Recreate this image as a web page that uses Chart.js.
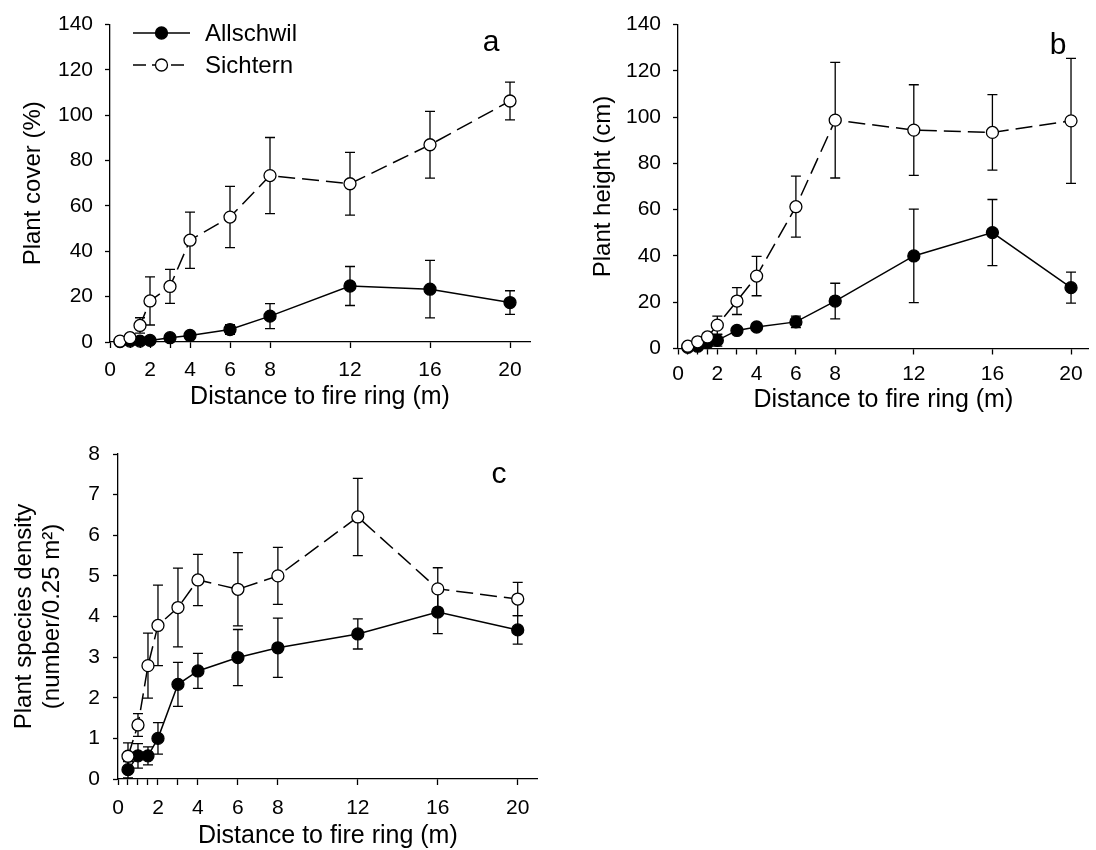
<!DOCTYPE html>
<html>
<head>
<meta charset="utf-8">
<title>Vegetation around fire rings</title>
<script src="https://cdn.jsdelivr.net/npm/chart.js@4/dist/chart.umd.min.js"></script>
<style>
  html, body { margin: 0; padding: 0; background: #fff; overflow: hidden; }
  canvas { position: absolute; }
</style>
</head>
<body>
<canvas id="coverChart" width="545" height="420" style="left:0;top:0"></canvas>
<canvas id="heightChart" width="556" height="420" style="left:540px;top:0"></canvas>
<canvas id="densityChart" width="545" height="430" style="left:0;top:420px"></canvas>

<script>
// distances of the sampling points (m)
const distances = [0.5, 1, 1.5, 2, 3, 4, 6, 8, 12, 16, 20];
// tick marks on the x axis, and the ones that carry a label
const xTickValues = [0, 0.5, 1, 1.5, 2, 3, 4, 6, 8, 12, 16, 20];
const xTickLabels = [0, 2, 4, 6, 8, 12, 16, 20];

// a) plant cover (%), mean and SE
const coverAllschwil   = [0.2, 0.4, 0.4, 0.7, 1.9, 2.9, 5.5, 11.4, 24.7, 23.3, 17.4];
const coverAllschwilSE = [0.2, 0.3, 0.5, 0.5, 0.9, 1.1, 2.1, 5.5, 8.6, 12.7, 5.2];
const coverSichtern    = [0.4, 1.9, 7.3, 18.1, 24.5, 44.9, 55.1, 73.4, 69.8, 87.0, 106.3];
const coverSichternSE  = [0.3, 0.8, 3.4, 10.6, 7.5, 12.4, 13.5, 16.8, 13.8, 14.7, 8.3];

// b) plant height (cm), mean and SE
const heightAllschwil   = [0.5, 1.0, 2.5, 3.5, 7.8, 9.3, 11.5, 20.5, 40.0, 50.1, 26.3];
const heightAllschwilSE = [0.3, 0.5, 1.0, 2.5, 1.2, 1.2, 2.5, 7.7, 20.2, 14.3, 6.7];
const heightSichtern    = [1.0, 2.9, 5.0, 10.1, 20.5, 31.3, 61.3, 98.7, 94.4, 93.4, 98.4];
const heightSichternSE  = [0.5, 1.0, 1.5, 3.9, 5.8, 8.5, 13.2, 25.0, 19.6, 16.3, 27.0];

// c) plant species density (number / 0.25 m2), mean and SE
const densityAllschwil   = [0.23, 0.57, 0.57, 1.0, 2.33, 2.66, 2.99, 3.23, 3.57, 4.11, 3.67];
const densityAllschwilSE = [0.2, 0.3, 0.22, 0.39, 0.54, 0.43, 0.69, 0.73, 0.37, 0.53, 0.35];
const densitySichtern    = [0.56, 1.33, 2.79, 3.78, 4.22, 4.9, 4.67, 5.0, 6.45, 4.68, 4.43];
const densitySichternSE  = [0.33, 0.28, 0.8, 0.99, 0.97, 0.63, 0.9, 0.7, 0.95, 0.52, 0.41];

const seriesNames = ['Allschwil', 'Sichtern'];

const FONT = "'Liberation Sans', Arial, Helvetica, sans-serif";
const SICHTERN_DASH = [17, 7];
const MARKER_R = 6;

/**
 * Pairs the distances with one series of values.
 * @param {Array} values - y values, one per distance.
 * @returns {Array} points as {x, y}.
 */
function toPoints(values) {
    return distances.map((d, i) => ({ x: d, y: values[i] }));
}

// Draws symmetric error bars (mean +/- SE) under the markers
const errorBarPlugin = {
    id: 'errorBars',
    beforeDatasetsDraw(chart) {
        const { ctx, scales: { x, y } } = chart;
        ctx.save();
        ctx.strokeStyle = '#000';
        ctx.lineWidth = 1.3;
        chart.data.datasets.forEach(ds => {
            if (!ds.errors) return;
            ds.data.forEach((pt, i) => {
                const err = ds.errors[i];
                const px = x.getPixelForValue(pt.x);
                const top = y.getPixelForValue(pt.y + err);
                const bottom = y.getPixelForValue(Math.max(pt.y - err, y.min));
                ctx.beginPath();
                ctx.moveTo(px, top);
                ctx.lineTo(px, bottom);
                ctx.moveTo(px - 5, top);
                ctx.lineTo(px + 5, top);
                if (pt.y - err > y.min) {
                    ctx.moveTo(px - 5, bottom);
                    ctx.lineTo(px + 5, bottom);
                }
                ctx.stroke();
            });
        });
        ctx.restore();
    }
};

// Panel letter (a, b, c) in the top right corner
const panelLabelPlugin = {
    id: 'panelLabel',
    afterDraw(chart, args, opts) {
        if (!opts || !opts.text) return;
        const { ctx } = chart;
        ctx.save();
        ctx.font = `30px ${FONT}`;
        ctx.fillStyle = '#000';
        ctx.textAlign = 'center';
        ctx.textBaseline = 'middle';
        ctx.fillText(opts.text, opts.x, opts.y);
        ctx.restore();
    }
};

// Small key with line + marker samples (only used on panel a)
const seriesKeyPlugin = {
    id: 'seriesKey',
    afterDraw(chart, args, opts) {
        if (!opts || !opts.show) return;
        const { ctx } = chart;
        const rows = [
            { name: seriesNames[0], y: opts.y, dash: [], fill: '#000' },
            { name: seriesNames[1], y: opts.y + opts.gap, dash: [13, 6], fill: '#fff' }
        ];
        ctx.save();
        rows.forEach(row => {
            ctx.strokeStyle = '#000';
            ctx.lineWidth = 1.5;
            ctx.setLineDash(row.dash);
            ctx.beginPath();
            ctx.moveTo(opts.x0, row.y);
            ctx.lineTo(opts.x1, row.y);
            ctx.stroke();
            ctx.setLineDash([]);
            ctx.beginPath();
            ctx.arc((opts.x0 + opts.x1) / 2, row.y, MARKER_R, 0, Math.PI * 2);
            ctx.fillStyle = row.fill;
            ctx.fill();
            ctx.lineWidth = 1.3;
            ctx.stroke();
            ctx.fillStyle = '#000';
            ctx.font = `24px ${FONT}`;
            ctx.textAlign = 'left';
            ctx.textBaseline = 'middle';
            ctx.fillText(row.name, opts.textX, row.y + 1);
        });
        ctx.restore();
    }
};

/**
 * Builds one panel.
 * @param {string} canvasId - id of the canvas.
 * @param {object} cfg - series, axis ranges, titles and box sizes.
 */
function createPanel(canvasId, cfg) {
    const ctx = document.getElementById(canvasId);
    if (!ctx) {
        console.warn(`Canvas '${canvasId}' not found.`);
        return null;
    }

    const datasets = [
        {
            label: seriesNames[1],
            data: toPoints(cfg.sichtern),
            errors: cfg.sichternSE,
            borderColor: '#000',
            borderWidth: 1.5,
            borderDash: SICHTERN_DASH,
            pointRadius: MARKER_R,
            pointBorderWidth: 1.3,
            pointBackgroundColor: '#fff',
            pointBorderColor: '#000',
            tension: 0,
            clip: false
        },
        {
            label: seriesNames[0],
            data: toPoints(cfg.allschwil),
            errors: cfg.allschwilSE,
            borderColor: '#000',
            borderWidth: 1.5,
            pointRadius: MARKER_R,
            pointBorderWidth: 1.3,
            pointBackgroundColor: '#000',
            pointBorderColor: '#000',
            tension: 0,
            clip: false
        }
    ];

    return new Chart(ctx, {
        type: 'line',
        data: { datasets },
        plugins: [errorBarPlugin, panelLabelPlugin, seriesKeyPlugin],
        options: {
            responsive: false,
            animation: false,
            events: [],
            layout: { padding: cfg.padding },
            scales: {
                x: {
                    type: 'linear',
                    min: 0,
                    max: cfg.xMax,
                    afterBuildTicks: axis => {
                        axis.ticks = xTickValues.map(v => ({ value: v }));
                    },
                    afterFit: axis => { axis.height = cfg.xHeight; },
                    ticks: {
                        autoSkip: false,
                        maxRotation: 0,
                        padding: cfg.xTickPad,
                        color: '#000',
                        font: { family: FONT, size: 21 },
                        callback: v => (xTickLabels.includes(v) ? String(v) : '')
                    },
                    grid: {
                        drawOnChartArea: false,
                        drawTicks: true,
                        tickLength: 6,
                        tickColor: '#000',
                        tickWidth: 1.3
                    },
                    border: { display: true, color: '#000', width: 1.3 },
                    title: {
                        display: true,
                        text: 'Distance to fire ring (m)',
                        color: '#000',
                        font: { family: FONT, size: 25, lineHeight: 1 },
                        padding: { top: 0, bottom: cfg.xTitlePad }
                    }
                },
                y: {
                    min: 0,
                    max: cfg.yMax,
                    afterFit: axis => { axis.width = cfg.yWidth; },
                    ticks: {
                        stepSize: cfg.yStep,
                        padding: cfg.yTickPad,
                        color: '#000',
                        font: { family: FONT, size: 21 }
                    },
                    grid: {
                        drawOnChartArea: false,
                        drawTicks: true,
                        tickLength: 5,
                        tickColor: '#000',
                        tickWidth: 1.3
                    },
                    border: { display: true, color: '#000', width: 1.3 },
                    title: {
                        display: true,
                        text: cfg.yTitle,
                        color: '#000',
                        font: { family: FONT, size: 24, lineHeight: cfg.yTitleLineHeight || 1.2 },
                        padding: { top: cfg.yTitlePad, bottom: 0 }
                    }
                }
            },
            plugins: {
                legend: { display: false },
                tooltip: { enabled: false },
                panelLabel: cfg.label,
                seriesKey: cfg.key || { show: false }
            }
        }
    });
}

document.addEventListener('DOMContentLoaded', function () {
    createPanel('coverChart', {
        allschwil: coverAllschwil, allschwilSE: coverAllschwilSE,
        sichtern: coverSichtern, sichternSE: coverSichternSE,
        yMax: 140, yStep: 20, xMax: 21,
        yTitle: 'Plant cover (%)',
        padding: { top: 23, right: 15, bottom: 0, left: 0 },
        yWidth: 110, xHeight: 78,
        yTitlePad: 19, xTitlePad: 10, yTickPad: 12, xTickPad: 10,
        label: { text: 'a', x: 491, y: 43 },
        key: { show: true, x0: 133, x1: 190, y: 33, gap: 32, textX: 205 }
    });

    createPanel('heightChart', {
        allschwil: heightAllschwil, allschwilSE: heightAllschwilSE,
        sichtern: heightSichtern, sichternSE: heightSichternSE,
        yMax: 140, yStep: 20, xMax: 20.9,
        yTitle: 'Plant height (cm)',
        padding: { top: 24, right: 0, bottom: 0, left: 0 },
        yWidth: 138, xHeight: 71.5,
        yTitlePad: 49, xTitlePad: 7, yTickPad: 12, xTickPad: 7,
        label: { text: 'b', x: 518, y: 46 }
    });

    createPanel('densityChart', {
        allschwil: densityAllschwil, allschwilSE: densityAllschwilSE,
        sichtern: densitySichtern, sichternSE: densitySichternSE,
        yMax: 8, yStep: 1, xMax: 21,
        yTitle: ['Plant species density', '(number/0.25 m\u00b2)'],
        yTitleLineHeight: 1.15,
        padding: { top: 34, right: 7, bottom: 0, left: 0 },
        yWidth: 118, xHeight: 71,
        yTitlePad: 11, xTitlePad: 1, yTickPad: 13, xTickPad: 11,
        label: { text: 'c', x: 499, y: 55 }
    });
});
</script>
</body>
</html>
